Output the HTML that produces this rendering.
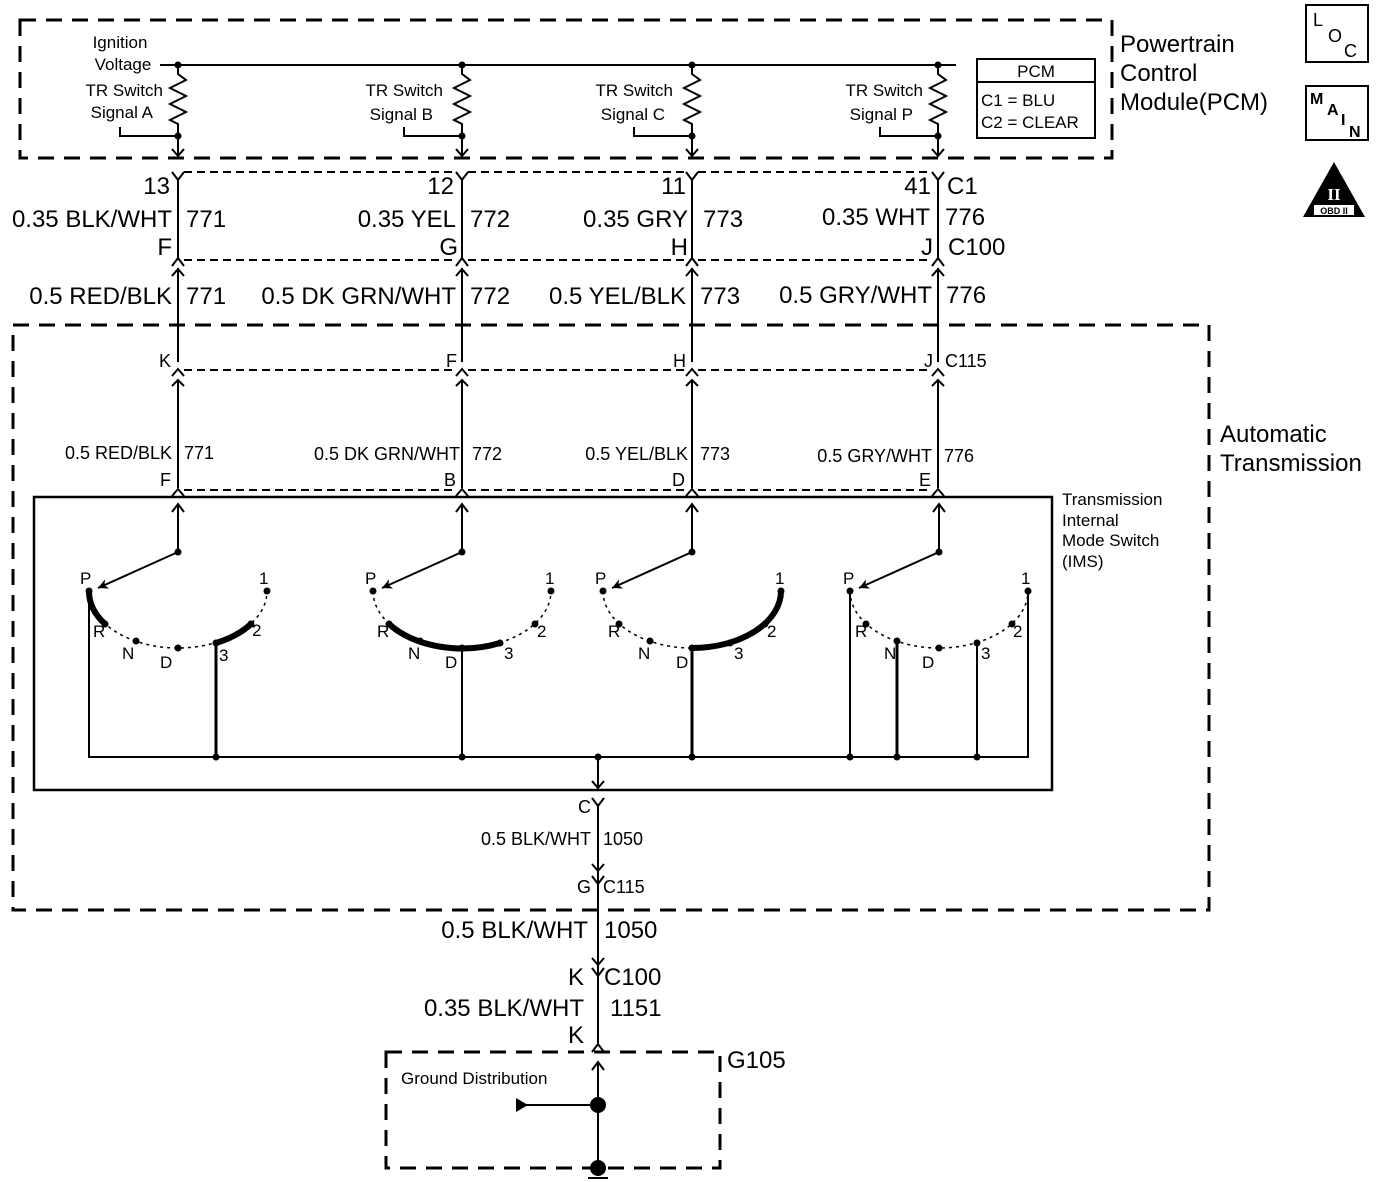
<!DOCTYPE html>
<html><head><meta charset="utf-8"><style>
html,body{margin:0;padding:0;background:#fff}
svg{display:block}
text{font-family:"Liberation Sans",Arial,sans-serif;fill:#000}
.b{font-size:24px}.m{font-size:17px}.s{font-size:18px}.t{font-size:17px}
</style></head><body>
<svg width="1392" height="1182" viewBox="0 0 1392 1182" xmlns="http://www.w3.org/2000/svg">
<defs>
<marker id="ah" markerWidth="12" markerHeight="12" refX="10" refY="5" orient="auto" markerUnits="userSpaceOnUse"><path d="M0,0 L10,5 L0,10 L3,5 Z" fill="#000"/></marker>
</defs>
<g fill="none" stroke="#000">
<rect x="20" y="20" width="1092" height="138" stroke-width="3" stroke-dasharray="16,10"/>
<rect x="13" y="325" width="1196" height="585" stroke-width="3" stroke-dasharray="16,10"/>
<rect x="386" y="1052" width="334" height="116" stroke-width="3" stroke-dasharray="16,10"/>
<g stroke-width="2" stroke-dasharray="8,5">
<line x1="184" y1="172" x2="456" y2="172"/><line x1="468" y1="172" x2="686" y2="172"/><line x1="698" y1="172" x2="932" y2="172"/>
<line x1="184" y1="260" x2="456" y2="260"/><line x1="468" y1="260" x2="686" y2="260"/><line x1="698" y1="260" x2="932" y2="260"/>
<line x1="184" y1="370" x2="456" y2="370"/><line x1="468" y1="370" x2="686" y2="370"/><line x1="698" y1="370" x2="932" y2="370"/>
<line x1="184" y1="490" x2="456" y2="490"/><line x1="468" y1="490" x2="686" y2="490"/><line x1="698" y1="490" x2="932" y2="490"/>
</g>
<line x1="160" y1="65" x2="956" y2="65" stroke-width="2"/>
</g>

<g stroke="#000" fill="none" stroke-width="2">
<g id="colA">
<path d="M178,65 V74 L186,80 L170,88 L186,96 L170,104 L186,112 L170,120 L178,124 V156"/>
<path d="M120,127 V136 H178"/>
<path d="M172,149 L178,156 L184,149"/>
<path d="M172,172 L178,180 L184,172"/>
<line x1="178" y1="180" x2="178" y2="258"/>
<path d="M172,266 L178,258 L184,266"/>
<line x1="178" y1="268" x2="178" y2="362"/>
<path d="M172,276 L178,269 L184,276"/>
<path d="M172,376 L178,369 L184,376"/>
<line x1="178" y1="380" x2="178" y2="488"/>
<path d="M172,386 L178,380 L184,386"/>
<path d="M172,496 L178,489 L184,496"/>
</g>
<use href="#colA" x="284"/>
<use href="#colA" x="514"/>
<use href="#colA" x="760"/>
</g>
<g fill="#000">
<circle cx="178" cy="65" r="3.5"/><circle cx="462" cy="65" r="3.5"/><circle cx="692" cy="65" r="3.5"/><circle cx="938" cy="65" r="3.5"/>
<circle cx="178" cy="136" r="3.5"/><circle cx="462" cy="136" r="3.5"/><circle cx="692" cy="136" r="3.5"/><circle cx="938" cy="136" r="3.5"/>
</g>

<rect x="34" y="497" width="1018" height="293" fill="none" stroke="#000" stroke-width="2.5"/>

<g fill="none" stroke="#000">
<g stroke-width="2">
<path d="M178,552 V505 M172,512 L178,504 L184,512"/>
<path d="M462,552 V505 M456,512 L462,504 L468,512"/>
<path d="M692,552 V505 M686,512 L692,504 L698,512"/>
<path d="M939,552 V505 M933,512 L939,504 L945,512"/>
<line x1="178" y1="552" x2="98" y2="588" marker-end="url(#ah)"/>
<line x1="462" y1="552" x2="382" y2="588" marker-end="url(#ah)"/>
<line x1="692" y1="552" x2="612" y2="588" marker-end="url(#ah)"/>
<line x1="939" y1="552" x2="859" y2="588" marker-end="url(#ah)"/>
</g>
<g stroke-width="1.5" stroke-dasharray="3,4">
<path d="M89,591 A89 57 0 0 0 267,591"/>
<path d="M373,591 A89 57 0 0 0 551,591"/>
<path d="M603,591 A89 57 0 0 0 781,591"/>
<path d="M850,591 A89 57 0 0 0 1028,591"/>
</g>
<g stroke-width="6" stroke-linecap="round">
<path d="M89,591 A89 57 0 0 0 105,624"/>
<path d="M216,643 A89 57 0 0 0 251,624"/>
<path d="M389,624 A89 57 0 0 0 500,643"/>
<path d="M692,648 A89 57 0 0 0 781,591"/>
</g>
<g stroke-width="2">
<path d="M89,591 V757 H1028 V591"/>
<line x1="216" y1="643" x2="216" y2="757" stroke-width="3"/>
<line x1="462" y1="648" x2="462" y2="757"/>
<line x1="692" y1="648" x2="692" y2="757" stroke-width="3"/>
<line x1="850" y1="591" x2="850" y2="757"/>
<line x1="897" y1="641" x2="897" y2="757" stroke-width="3"/>
<line x1="977" y1="643" x2="977" y2="757"/>
<path d="M598,757 V788 M592,781 L598,788 L604,781"/>
<path d="M592,798 L598,806 L604,798"/>
<line x1="598" y1="806" x2="598" y2="1043"/>
<path d="M592,864 L598,871 L604,864"/>
<path d="M592,876 L598,884 L604,876"/>
<path d="M592,958 L598,965 L604,958"/>
<path d="M592,968 L598,976 L604,968"/>
<path d="M592,1052 L598,1044 L604,1052"/>
<path d="M598,1062 V1168 M592,1070 L598,1062 L604,1070"/>
<line x1="524" y1="1105" x2="598" y2="1105"/>
<line x1="588" y1="1178" x2="608" y2="1178"/>
</g>
</g>
<g fill="#000">
<circle cx="178" cy="552" r="3.5"/><circle cx="462" cy="552" r="3.5"/><circle cx="692" cy="552" r="3.5"/><circle cx="939" cy="552" r="3.5"/>
<g>
<circle cx="89" cy="591" r="3.5"/><circle cx="105" cy="624" r="3.5"/><circle cx="136" cy="641" r="3.5"/><circle cx="178" cy="648" r="3.5"/><circle cx="216" cy="643" r="3.5"/><circle cx="251" cy="624" r="3.5"/><circle cx="267" cy="591" r="3.5"/>
<circle cx="373" cy="591" r="3.5"/><circle cx="389" cy="624" r="3.5"/><circle cx="420" cy="641" r="3.5"/><circle cx="462" cy="648" r="3.5"/><circle cx="500" cy="643" r="3.5"/><circle cx="535" cy="624" r="3.5"/><circle cx="551" cy="591" r="3.5"/>
<circle cx="603" cy="591" r="3.5"/><circle cx="619" cy="624" r="3.5"/><circle cx="650" cy="641" r="3.5"/><circle cx="692" cy="648" r="3.5"/><circle cx="730" cy="643" r="3.5"/><circle cx="765" cy="624" r="3.5"/><circle cx="781" cy="591" r="3.5"/>
<circle cx="850" cy="591" r="3.5"/><circle cx="866" cy="624" r="3.5"/><circle cx="897" cy="641" r="3.5"/><circle cx="939" cy="648" r="3.5"/><circle cx="977" cy="643" r="3.5"/><circle cx="1012" cy="624" r="3.5"/><circle cx="1028" cy="591" r="3.5"/>
</g>
<circle cx="216" cy="757" r="3.5"/><circle cx="462" cy="757" r="3.5"/><circle cx="598" cy="757" r="3.5"/><circle cx="692" cy="757" r="3.5"/><circle cx="850" cy="757" r="3.5"/><circle cx="897" cy="757" r="3.5"/><circle cx="977" cy="757" r="3.5"/>
<circle cx="598" cy="1105" r="8"/><circle cx="598" cy="1168" r="8"/>
<path d="M516,1098 L528,1105 L516,1112 Z"/>
</g>

<g fill="none" stroke="#000" stroke-width="2">
<rect x="977" y="59" width="118" height="79"/><line x1="977" y1="82" x2="1095" y2="82"/>
<rect x="1306" y="5" width="62" height="57"/>
<rect x="1306" y="86" width="62" height="54"/>
</g>
<path d="M1334,162 L1365,217 L1303,217 Z" fill="#000"/>
<rect x="1314" y="205" width="40" height="10" fill="#fff"/>
<text x="1334" y="214" font-size="9" text-anchor="middle" style="font-weight:bold">OBD II</text>
<text x="1334" y="200" font-size="17" text-anchor="middle" style="fill:#fff;font-family:'Liberation Serif',serif;font-weight:bold">II</text>
<text x="1313" y="26" font-size="18">L</text><text x="1328" y="42" font-size="18">O</text><text x="1344" y="57" font-size="18">C</text>
<text x="1310" y="104" font-size="16" style="font-weight:bold">M</text><text x="1327" y="115" font-size="16" style="font-weight:bold">A</text><text x="1341" y="125" font-size="16" style="font-weight:bold">I</text><text x="1349" y="137" font-size="16" style="font-weight:bold">N</text>

<text x="1036" y="77" class="t" text-anchor="middle">PCM</text>
<text x="981" y="106" class="t">C1 = BLU</text>
<text x="981" y="128" class="t">C2 = CLEAR</text>
<text x="1120" y="52" class="b">Powertrain</text>
<text x="1120" y="81" class="b">Control</text>
<text x="1120" y="110" class="b">Module(PCM)</text>
<text x="120" y="48" class="m" text-anchor="middle">Ignition</text>
<text x="123" y="70" class="m" text-anchor="middle">Voltage</text>
<g class="m" text-anchor="end">
<text x="163" y="96">TR Switch</text><text x="153" y="118">Signal A</text>
<text x="443" y="96">TR Switch</text><text x="433" y="120">Signal B</text>
<text x="673" y="96">TR Switch</text><text x="665" y="120">Signal C</text>
<text x="923" y="96">TR Switch</text><text x="913" y="120">Signal P</text>
</g>

<g class="b">
<text x="170" y="194" text-anchor="end">13</text><text x="454" y="194" text-anchor="end">12</text><text x="686" y="194" text-anchor="end">11</text><text x="931" y="194" text-anchor="end">41</text><text x="947" y="194">C1</text>
<text x="172" y="227" text-anchor="end">0.35 BLK/WHT</text><text x="186" y="227">771</text>
<text x="456" y="227" text-anchor="end">0.35 YEL</text><text x="470" y="227">772</text>
<text x="688" y="227" text-anchor="end">0.35 GRY</text><text x="703" y="227">773</text>
<text x="930" y="225" text-anchor="end">0.35 WHT</text><text x="945" y="225">776</text>
<text x="172" y="255" text-anchor="end">F</text><text x="458" y="255" text-anchor="end">G</text><text x="688" y="255" text-anchor="end">H</text><text x="933" y="255" text-anchor="end">J</text><text x="948" y="255">C100</text>
<text x="172" y="304" text-anchor="end">0.5 RED/BLK</text><text x="186" y="304">771</text>
<text x="456" y="304" text-anchor="end">0.5 DK GRN/WHT</text><text x="470" y="304">772</text>
<text x="686" y="304" text-anchor="end">0.5 YEL/BLK</text><text x="700" y="304">773</text>
<text x="932" y="303" text-anchor="end">0.5 GRY/WHT</text><text x="946" y="303">776</text>
<text x="1220" y="442">Automatic</text><text x="1220" y="471">Transmission</text>
</g>
<g class="s">
<text x="171" y="367" text-anchor="end">K</text><text x="457" y="367" text-anchor="end">F</text><text x="686" y="367" text-anchor="end">H</text><text x="933" y="367" text-anchor="end">J</text><text x="945" y="367">C115</text>
<text x="172" y="459" text-anchor="end">0.5 RED/BLK</text><text x="184" y="459">771</text>
<text x="460" y="460" text-anchor="end">0.5 DK GRN/WHT</text><text x="472" y="460">772</text>
<text x="688" y="460" text-anchor="end">0.5 YEL/BLK</text><text x="700" y="460">773</text>
<text x="932" y="462" text-anchor="end">0.5 GRY/WHT</text><text x="944" y="462">776</text>
<text x="171" y="486" text-anchor="end">F</text><text x="456" y="486" text-anchor="end">B</text><text x="685" y="486" text-anchor="end">D</text><text x="931" y="486" text-anchor="end">E</text>
<text x="1062" y="505" class="m">Transmission</text><text x="1062" y="526" class="m">Internal</text><text x="1062" y="546" class="m">Mode Switch</text><text x="1062" y="567" class="m">(IMS)</text>
<text x="591" y="813" text-anchor="end">C</text>
<text x="591" y="845" text-anchor="end">0.5 BLK/WHT</text><text x="603" y="845">1050</text>
<text x="591" y="893" text-anchor="end">G</text><text x="603" y="893">C115</text>
</g>
<text x="401" y="1084" class="m">Ground Distribution</text>
<g class="b">
<text x="588" y="938" text-anchor="end">0.5 BLK/WHT</text><text x="604" y="938">1050</text>
<text x="584" y="985" text-anchor="end">K</text><text x="604" y="985">C100</text>
<text x="584" y="1016" text-anchor="end">0.35 BLK/WHT</text><text x="610" y="1016">1151</text>
<text x="584" y="1043" text-anchor="end">K</text>
<text x="727" y="1068">G105</text>
</g>
<g font-size="17">
<text x="80" y="584">P</text><text x="93" y="637">R</text><text x="122" y="659">N</text><text x="160" y="668">D</text><text x="219" y="661">3</text><text x="252" y="636">2</text><text x="259" y="584">1</text>
<text x="365" y="584">P</text><text x="377" y="637">R</text><text x="408" y="659">N</text><text x="445" y="668">D</text><text x="504" y="659">3</text><text x="537" y="637">2</text><text x="545" y="584">1</text>
<text x="595" y="584">P</text><text x="608" y="637">R</text><text x="638" y="659">N</text><text x="676" y="668">D</text><text x="734" y="659">3</text><text x="767" y="637">2</text><text x="775" y="584">1</text>
<text x="843" y="584">P</text><text x="855" y="637">R</text><text x="884" y="659">N</text><text x="922" y="668">D</text><text x="981" y="659">3</text><text x="1013" y="637">2</text><text x="1021" y="584">1</text>
</g>
</svg>
</body></html>
